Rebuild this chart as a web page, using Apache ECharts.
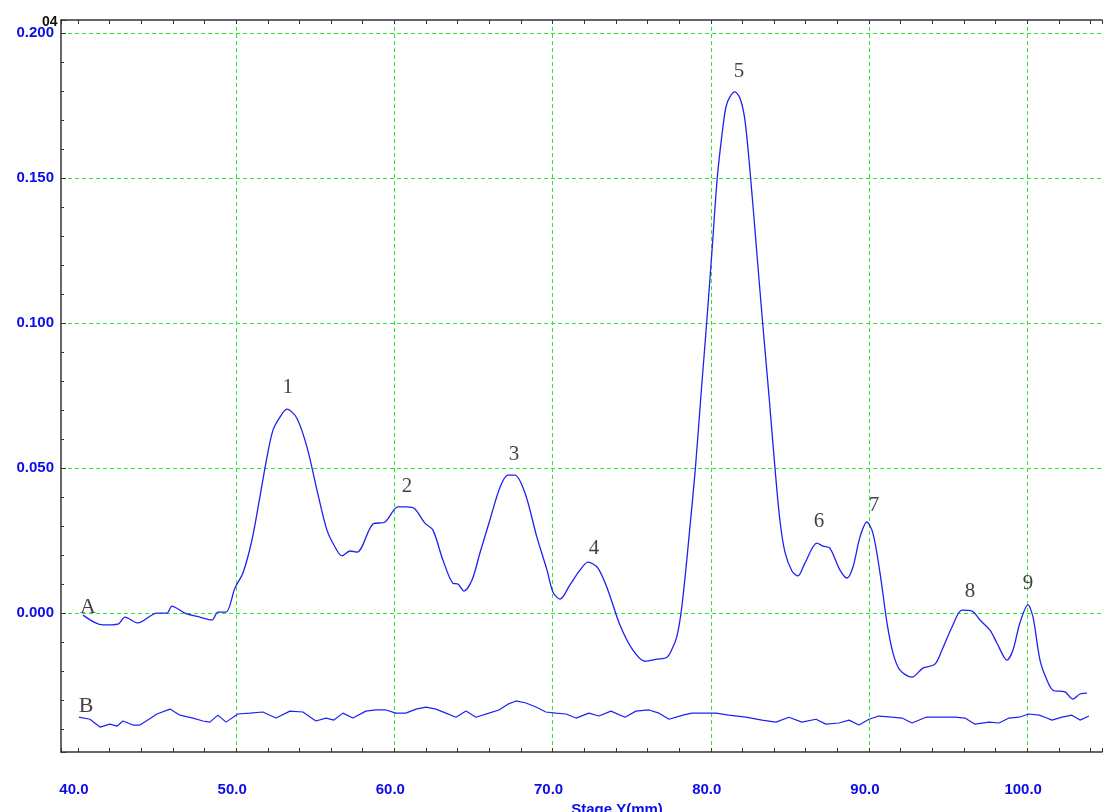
<!DOCTYPE html>
<html>
<head>
<meta charset="utf-8">
<script src="https://cdn.jsdelivr.net/npm/echarts@6/dist/echarts.min.js"></script>
<style>html,body{margin:0;padding:0;background:#fff;}#c{width:1104px;height:812px;}</style>
</head>
<body>
<div id="c"></div>
<script>
// Curve A (Stage Y in mm, signal)
const aX = [40.32,41.58,42.53,42.97,43.79,44.99,45.63,45.94,46.76,47.71,48.47,48.85,49.36,49.92,50.43,51.00,51.50,51.95,52.33,52.77,53.21,53.84,54.48,55.11,55.74,56.25,56.69,57.19,57.64,58.65,59.41,60.23,60.80,61.30,61.93,62.44,63.07,63.70,64.02,64.40,64.91,65.41,66.04,66.68,67.18,67.62,68.26,69.01,69.65,70.03,70.47,71.10,71.73,72.24,72.87,73.50,74.26,75.08,75.84,76.60,77.24,77.61,77.86,78.12,78.37,78.69,79.03,79.38,79.74,80.08,80.41,80.71,80.96,81.21,81.53,81.85,82.16,82.52,82.90,83.28,83.68,84.06,84.37,84.69,85.13,85.51,85.95,86.71,87.09,87.53,88.17,88.61,88.99,89.43,89.87,90.25,90.70,91.14,91.52,91.96,92.72,93.41,94.17,94.61,95.25,95.88,96.51,97.02,97.65,98.09,98.72,99.10,99.54,100.05,100.37,100.81,101.25,101.63,102.39,102.89,103.34,103.78];
const aY = [-0.0007,-0.0041,-0.0038,-0.0014,-0.0034,0.0000,0.0000,0.0024,0.0000,-0.0014,-0.0024,0.0003,0.0003,0.0086,0.0138,0.0252,0.0400,0.0538,0.0631,0.0676,0.0703,0.0672,0.0572,0.0424,0.0286,0.0228,0.0197,0.0214,0.0210,0.0307,0.0314,0.0366,0.0366,0.0359,0.0310,0.0286,0.0183,0.0103,0.0100,0.0076,0.0114,0.0207,0.0321,0.0434,0.0476,0.0476,0.0414,0.0262,0.0148,0.0072,0.0048,0.0097,0.0148,0.0176,0.0155,0.0079,-0.0041,-0.0128,-0.0166,-0.0159,-0.0152,-0.0117,-0.0080,0.0000,0.0120,0.0300,0.0500,0.0750,0.1000,0.1250,0.1500,0.1650,0.1745,0.1780,0.1797,0.1775,0.1700,0.1500,0.1250,0.1000,0.0750,0.0500,0.0320,0.0210,0.0145,0.0128,0.0172,0.0241,0.0231,0.0224,0.0148,0.0121,0.0159,0.0262,0.0314,0.0276,0.0138,-0.0034,-0.0138,-0.0197,-0.0221,-0.0190,-0.0176,-0.0128,-0.0048,0.0010,0.0007,-0.0024,-0.0059,-0.0103,-0.0162,-0.0128,-0.0034,0.0028,-0.0014,-0.0162,-0.0231,-0.0266,-0.0272,-0.0297,-0.0279,-0.0276];

// Curve B
const bX = [40.06,40.76,41.39,42.02,42.47,42.84,43.48,43.92,44.49,44.99,45.82,46.45,47.27,47.90,48.34,48.85,49.36,50.11,50.87,51.69,52.52,53.40,54.22,55.04,55.68,56.18,56.75,57.38,58.20,58.84,59.47,60.10,60.73,61.37,62.00,62.63,63.26,63.89,64.53,65.16,65.98,66.61,67.18,67.69,68.32,68.95,69.58,70.21,70.85,71.48,72.30,72.93,73.69,74.58,75.27,76.09,76.73,77.36,78.24,78.81,79.44,80.33,81.15,82.22,83.24,84.12,84.94,85.76,86.65,87.28,88.10,88.74,89.37,90.00,90.63,91.45,92.09,92.72,93.60,94.42,95.44,96.07,96.70,97.59,98.22,98.85,99.48,100.11,100.75,101.12,101.57,102.20,102.83,103.34,103.91];
const bY = [-0.0359,-0.0366,-0.0393,-0.0383,-0.0390,-0.0372,-0.0386,-0.0386,-0.0366,-0.0348,-0.0331,-0.0352,-0.0362,-0.0372,-0.0376,-0.0352,-0.0376,-0.0348,-0.0345,-0.0341,-0.0362,-0.0338,-0.0341,-0.0372,-0.0362,-0.0369,-0.0345,-0.0362,-0.0338,-0.0334,-0.0334,-0.0345,-0.0345,-0.0331,-0.0324,-0.0331,-0.0345,-0.0359,-0.0338,-0.0359,-0.0345,-0.0334,-0.0314,-0.0303,-0.0310,-0.0324,-0.0341,-0.0345,-0.0348,-0.0362,-0.0345,-0.0355,-0.0338,-0.0359,-0.0338,-0.0334,-0.0345,-0.0366,-0.0352,-0.0345,-0.0345,-0.0345,-0.0352,-0.0359,-0.0369,-0.0376,-0.0359,-0.0376,-0.0366,-0.0383,-0.0379,-0.0369,-0.0386,-0.0366,-0.0355,-0.0359,-0.0362,-0.0379,-0.0359,-0.0359,-0.0359,-0.0362,-0.0383,-0.0376,-0.0379,-0.0362,-0.0359,-0.0348,-0.0352,-0.0359,-0.0369,-0.0359,-0.0352,-0.0369,-0.0355];

// Peak annotations (text, x, y)
const peakNames = ['1','2','3','4','5','6','7','8','9'];
const peakX = [53.27,60.80,67.56,72.62,81.78,86.84,90.32,96.38,100.05];
const peakY = [0.0779,0.0438,0.0548,0.0224,0.1866,0.0317,0.0372,0.0076,0.0103];
const traceNames = ['A','B'];
const traceX = [40.63,40.51];
const traceY = [0.0021,-0.0321];

// Axis ranges
const xMin = 38.93, xMax = 104.73;
const yMin = -0.0479, yMax = 0.2045;
const xAxisTitle = 'Stage Y(mm)';
const cornerText = '04';

const zip = (xs, ys) => xs.map((x, i) => [x, ys[i]]);
const blue = '#0c0ce8';
const gridGreen = '#2ee62e';
const axisDark = '#333';
const clear = 'rgba(0,0,0,0)';

const chart = echarts.init(document.getElementById('c'), null, {renderer: 'canvas'});
const xCommon = {
  type: 'value', min: xMin, max: xMax,
  axisLine: {show: true, onZero: false, lineStyle: {color: axisDark, width: 1.5}},
  axisTick: {show: true, inside: true, length: 4, lineStyle: {color: axisDark}},
  minorTick: {show: true, splitNumber: 5, length: 4, lineStyle: {color: axisDark}},
};
chart.setOption({
  animation: false,
  backgroundColor: '#fff',
  title: {text: cornerText, left: 37, top: 10, textStyle: {fontFamily: 'Liberation Sans', fontWeight: 'bold', fontSize: 14, color: '#111'}},
  grid: {left: 61, right: 2, top: 20, bottom: 60, containLabel: false, outerBoundsMode: 'none'},
  xAxis: [
    Object.assign({}, xCommon, {
      position: 'bottom',
      name: xAxisTitle, nameLocation: 'middle', nameGap: 47,
      nameTextStyle: {color: blue, fontWeight: 'bold', fontSize: 15, fontFamily: 'Liberation Sans', padding: [0, 0, 0, 71]},
      axisLabel: {show: true, margin: 30, color: blue, fontWeight: 'bold', fontSize: 15, fontFamily: 'Liberation Sans',
        showMinLabel: false, showMaxLabel: false, padding: [0, 8, 0, 0],
        formatter: v => v.toFixed(1)},
      splitLine: {show: true, showMinLine: false, showMaxLine: false,
        lineStyle: {color: [clear, gridGreen, gridGreen, gridGreen, gridGreen, gridGreen, gridGreen], type: [4, 3], width: 1}}
    }),
    Object.assign({}, xCommon, {
      position: 'top',
      axisLabel: {show: false},
      splitLine: {show: false}
    })
  ],
  yAxis: {
    type: 'value', min: yMin, max: yMax,
    axisLine: {show: true, onZero: false, lineStyle: {color: axisDark, width: 1.5}},
    axisTick: {show: true, inside: true, length: 5, lineStyle: {color: axisDark}},
    minorTick: {show: true, splitNumber: 5, length: 3, lineStyle: {color: axisDark}},
    axisLabel: {show: true, margin: 7, color: blue, fontWeight: 'bold', fontSize: 15, fontFamily: 'Liberation Sans',
      showMinLabel: false, showMaxLabel: false, formatter: v => v.toFixed(3)},
    splitLine: {show: true, showMinLine: false, showMaxLine: false, lineStyle: {color: gridGreen, type: [4, 3], width: 1}}
  },
  series: [
    {type: 'line', name: 'A', data: zip(aX, aY), showSymbol: false, smooth: 0.3,
      lineStyle: {color: '#2020f0', width: 1.3}, z: 3},
    {type: 'line', name: 'B', data: zip(bX, bY), showSymbol: false, smooth: false,
      lineStyle: {color: '#2020f0', width: 1.2}, z: 3},
    {type: 'scatter', symbolSize: 0, silent: true, z: 4,
      data: peakX.map((x, i) => [x, peakY[i], peakNames[i]]),
      label: {show: true, position: 'inside', formatter: p => p.value[2], color: '#111',
        fontFamily: 'Liberation Serif', fontSize: 21}},
    {type: 'scatter', symbolSize: 0, silent: true, z: 4,
      data: traceX.map((x, i) => [x, traceY[i], traceNames[i]]),
      label: {show: true, position: 'inside', formatter: p => p.value[2], color: '#111',
        fontFamily: 'Liberation Serif', fontSize: 22}}
  ]
});
</script>
</body>
</html>
